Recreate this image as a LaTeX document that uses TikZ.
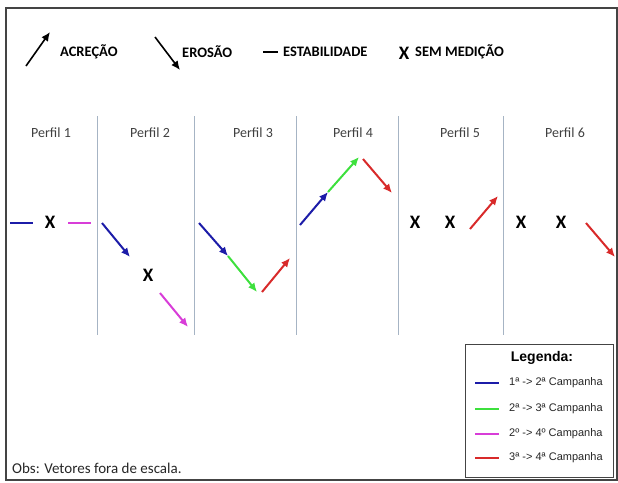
\documentclass[tikz,border=0pt]{standalone}
\usepackage{fontspec}
\setmainfont{Carlito}
\newfontfamily\arialfont{Liberation Sans}
\usetikzlibrary{arrows.meta}
\definecolor{campA}{HTML}{1C1CA8}
\definecolor{campB}{HTML}{3DE03D}
\definecolor{campC}{HTML}{D83DD8}
\definecolor{campD}{HTML}{D82A2A}
\definecolor{divider}{HTML}{A6B4C4}
\definecolor{framegray}{HTML}{444444}
\tikzset{
  vec/.style={line width=2pt, -{Latex[length=9pt,width=8pt]}},
  flat/.style={line width=2.2pt},
  keytext/.style={font=\bfseries\fontsize{14.5}{16}\selectfont, anchor=west, inner sep=0pt},
  nomark/.style={font=\bfseries\fontsize{19}{20}\selectfont, inner sep=0pt},
  perfil/.style={font=\fontsize{14}{16}\selectfont, text=black!75, inner sep=0pt},
  sep/.style={divider, line width=0.8pt},
  legtext/.style={font=\arialfont\fontsize{11}{12}\selectfont, anchor=west, inner sep=0pt, text=black!85},
}
\begin{document}
\begin{tikzpicture}[x=1pt, y=-1pt]
\useasboundingbox (0,0) rectangle (618,482);
% outer frame
\draw[framegray, line width=1.3pt] (6,8) rectangle (617,480);

% key at the top
\coordinate (acA) at (26,66); \coordinate (acB) at (50,32);
\draw[vec, black, line width=1.6pt] (acA) -- (acB);
\node[keytext] (acr) at (60,52) {ACREÇÃO};
\coordinate (erA) at (155,37); \coordinate (erB) at (180,70);
\draw[vec, black, line width=1.6pt] (erA) -- (erB);
\node[keytext] (ero) at (182,52) {EROSÃO};
\coordinate (esA) at (263,52); \coordinate (esB) at (278,52);
\draw[black, line width=1.8pt] (esA) -- (esB);
\node[keytext] (est) at (283,52) {ESTABILIDADE};
\node[nomark] (xkey) at (404,53) {X};
\node[keytext] (sem) at (415,52) {SEM MEDIÇÃO};

% profile dividers
\foreach \xx/\nm in {97/d1,194/d2,296/d3,398/d4,503/d5}{
  \coordinate (\nm t) at (\xx,116);
  \coordinate (\nm b) at (\xx,335);
  \draw[sep] (\nm t) -- (\nm b);
}

% profile titles
\node[perfil] (p1) at (51,133) {Perfil 1};
\node[perfil] (p2) at (150,133) {Perfil 2};
\node[perfil] (p3) at (253,133) {Perfil 3};
\node[perfil] (p4) at (353,133) {Perfil 4};
\node[perfil] (p5) at (460,133) {Perfil 5};
\node[perfil] (p6) at (565,133) {Perfil 6};

% Perfil 1
\coordinate (a1) at (10,223); \coordinate (a2) at (33,223);
\draw[flat, campA] (a1) -- (a2);
\node[nomark] (x1) at (50,222) {X};
\coordinate (a3) at (68,223); \coordinate (a4) at (91,223);
\draw[flat, campC] (a3) -- (a4);

% Perfil 2
\coordinate (b1) at (102,223); \coordinate (b2) at (130,257);
\draw[vec, campA] (b1) -- (b2);
\node[nomark] (x2) at (148,275) {X};
\coordinate (b3) at (160,293); \coordinate (b4) at (188,327);
\draw[vec, campC] (b3) -- (b4);

% Perfil 3
\coordinate (c1) at (199,223); \coordinate (c2) at (228,256);
\coordinate (c3) at (257,292);
\draw[vec, campA] (c1) -- (c2);
\draw[vec, campB] (c2) -- (c3);
\coordinate (c4) at (262,292); \coordinate (c5) at (290,258);
\draw[vec, campD] (c4) -- (c5);

% Perfil 4
\coordinate (e1) at (300,225); \coordinate (e2) at (328,192);
\coordinate (e3) at (359,157);
\draw[vec, campA] (e1) -- (e2);
\draw[vec, campB] (e2) -- (e3);
\coordinate (e4) at (363,159); \coordinate (e5) at (392,193);
\draw[vec, campD] (e4) -- (e5);

% Perfil 5
\node[nomark] (x5a) at (415,222) {X};
\node[nomark] (x5b) at (450,222) {X};
\coordinate (f1) at (470,229); \coordinate (f2) at (498,196);
\draw[vec, campD] (f1) -- (f2);

% Perfil 6
\node[nomark] (x6a) at (521,222) {X};
\node[nomark] (x6b) at (561,222) {X};
\coordinate (g1) at (586,223); \coordinate (g2) at (615,257);
\draw[vec, campD] (g1) -- (g2);

% legend box
\draw[framegray, line width=1pt, fill=white] (465,344) rectangle (613,477);
\node[font=\arialfont\bfseries\fontsize{14}{16}\selectfont, inner sep=0pt] (leg) at (542,358) {Legenda:};
\foreach \yy/\cc/\tx/\nm in {383/campA/{1ª -> 2ª Campanha}/l1,
                             409/campB/{2ª -> 3ª Campanha}/l2,
                             434/campC/{2º -> 4º Campanha}/l3,
                             458/campD/{3ª -> 4ª Campanha}/l4}{
  \coordinate (\nm a) at (475,\yy); \coordinate (\nm b) at (499,\yy);
  \draw[\cc, line width=2.2pt] (\nm a) -- (\nm b);
  \node[legtext] (\nm t) at (509,\yy) {\tx};
}

% note
\node[font=\fontsize{15}{17}\selectfont, anchor=west, inner sep=0pt, text=black!85] (obs) at (12,468) {Obs: Vetores fora de escala.};
\end{tikzpicture}
\end{document}
